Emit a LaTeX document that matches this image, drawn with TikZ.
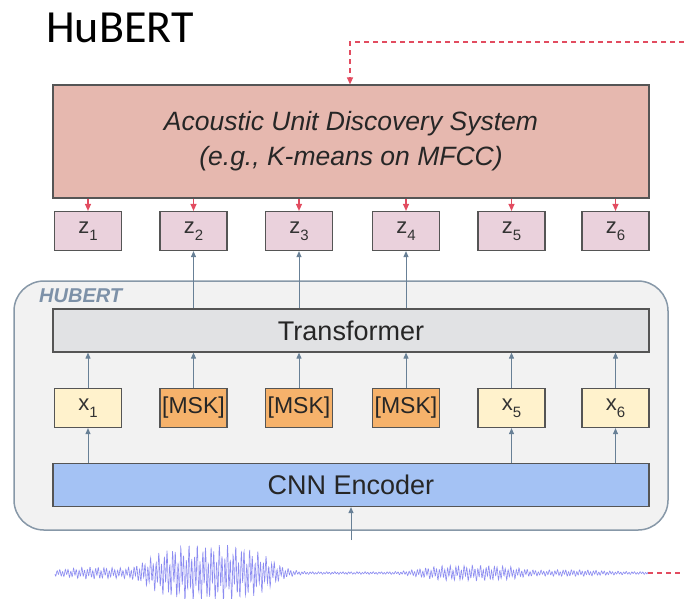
\documentclass[tikz,border=0pt]{standalone}
\usepackage{fontspec}
\setmainfont{Liberation Sans}
\newfontfamily\titlefont{Carlito}
\usetikzlibrary{arrows.meta}
\definecolor{pinkbox}{RGB}{230,184,175}
\definecolor{zbox}{RGB}{234,209,220}
\definecolor{xbox}{RGB}{255,242,204}
\definecolor{mskbox}{RGB}{246,178,107}
\definecolor{trbox}{RGB}{225,226,228}
\definecolor{cnnbox}{RGB}{164,194,244}
\definecolor{contfill}{RGB}{242,242,242}
\definecolor{contline}{RGB}{135,152,168}
\definecolor{hubc}{RGB}{125,145,168}
\definecolor{arrowc}{RGB}{104,128,150}
\definecolor{redc}{RGB}{226,76,96}
\definecolor{wavec}{RGB}{90,90,235}
\definecolor{boxline}{RGB}{85,85,85}
\newcommand{\lsub}[1]{\raisebox{-7pt}{\fontsize{15}{15}\selectfont #1}}
\tikzset{
  box/.style={draw=boxline, line width=1.2pt, inner sep=0pt},
  small/.style={box, minimum width=67, minimum height=39},
  big/.style={box, minimum width=596, minimum height=43},
  upar/.style={draw=arrowc, line width=1pt, -{Triangle[length=6pt,width=5pt]}},
  redar/.style={draw=redc, line width=1.2pt, dash pattern=on 5pt off 4pt, -{Triangle[length=7pt,width=6pt]}},
  lab/.style={font=\fontsize{22}{24}\selectfont},
}
\pgfmathdeclarefunction{gb}{3}{%
  \pgfmathparse{exp(-min(((#1-#2)/#3)*((#1-#2)/#3),15))}%
}
\pgfmathdeclarefunction{gq}{3}{%
  \pgfmathparse{exp(-min(((#1-#2)/#3)*((#1-#2)/#3)*((#1-#2)/#3)*((#1-#2)/#3),15))}%
}
\pgfmathdeclarefunction{env}{1}{%
  \pgfmathparse{4.5*gb(#1,95,40) + 25*gq(#1,210,65) + 1.2 + 6*gq(#1,470,55) + 2*gb(#1,570,40)}%
}
\begin{document}
\begin{tikzpicture}[x=1pt,y=-1pt]
\useasboundingbox (0,0) rectangle (684,598);
% title
\node[anchor=base west, inner sep=0, font=\titlefont\fontsize{46}{50}\selectfont] (title) at (46,42) {HuBERT};
% container
\node[draw=contline, fill=contfill, line width=1.5pt, rounded corners=30pt, minimum width=654, minimum height=249, inner sep=0] (cont) at (341,405.5) {};
\node[anchor=west, inner sep=0, text=hubc, font=\bfseries\itshape\fontsize{20}{22}\selectfont] (hublab) at (39,296) {HUBERT};
% acoustic unit discovery
\node[box, fill=pinkbox, minimum width=596, minimum height=113, align=center, font=\itshape\fontsize{26.5}{35}\selectfont, text=black!85] (ads) at (351,141.5) {Acoustic Unit Discovery System\\(e.g., K-means on MFCC)};
% transformer and cnn
\node[big, fill=trbox, font=\fontsize{27}{30}\selectfont, text=black!85] (tr) at (351,330.5) {Transformer};
\node[big, fill=cnnbox, font=\fontsize{27}{30}\selectfont, text=black!85] (cnn) at (351,485) {CNN Encoder};
% z boxes
\foreach \i/\xx in {1/88,2/193.5,3/299,4/406,5/511.5,6/615.5}{
  \node[small, fill=zbox, lab, text=black!80] (z\i) at (\xx,231) {z\lsub{\i}};
}
% x boxes
\node[small, fill=xbox, lab, text=black!80] (x1) at (88,408) {x\lsub{1}};
\node[small, fill=mskbox, font=\fontsize{23}{25}\selectfont, text=black!85] (x2) at (193.5,408) {[MSK]};
\node[small, fill=mskbox, font=\fontsize{23}{25}\selectfont, text=black!85] (x3) at (299,408) {[MSK]};
\node[small, fill=mskbox, font=\fontsize{23}{25}\selectfont, text=black!85] (x4) at (406,408) {[MSK]};
\node[small, fill=xbox, lab, text=black!80] (x5) at (511.5,408) {x\lsub{5}};
\node[small, fill=xbox, lab, text=black!80] (x6) at (615.5,408) {x\lsub{6}};
% arrows x -> transformer
\foreach \i in {1,...,6}{
  \draw[upar] (x\i.north) -- (x\i.north |- tr.south);
}
% cnn -> x
\foreach \i in {1,5,6}{
  \draw[upar] (x\i.south |- cnn.north) -- (x\i.south);
}
% transformer -> z
\foreach \i in {2,3,4}{
  \draw[upar] (z\i.south |- tr.north) -- (z\i.south);
}
% ads -> z
\foreach \i in {1,...,6}{
  \draw[redar] (z\i.north |- ads.south) -- (z\i.north);
}
% top feedback
\coordinate (fbR) at (684,42);
\coordinate (fbC) at (350,42);
\draw[redar] (fbR) -- (fbC) -- (fbC |- ads.north);
% waveform
\coordinate (wv) at (351,540);
\draw[upar] (wv) -- (wv |- cnn.south);
\draw[wavec, line width=0.6pt, opacity=0.7] plot[domain=55:648, samples=1600] (\x, {573 + env(\x)*(0.75*sin(mod(\x,2.75)*130.909)+0.35*sin(mod(\x,7.66)*47+20))});
\coordinate (wvR) at (648,573);
\coordinate (wvE) at (684,573);
\draw[redc, line width=1.2pt, dash pattern=on 5pt off 4pt] (wvR) -- (wvE);
\end{tikzpicture}
\end{document}
